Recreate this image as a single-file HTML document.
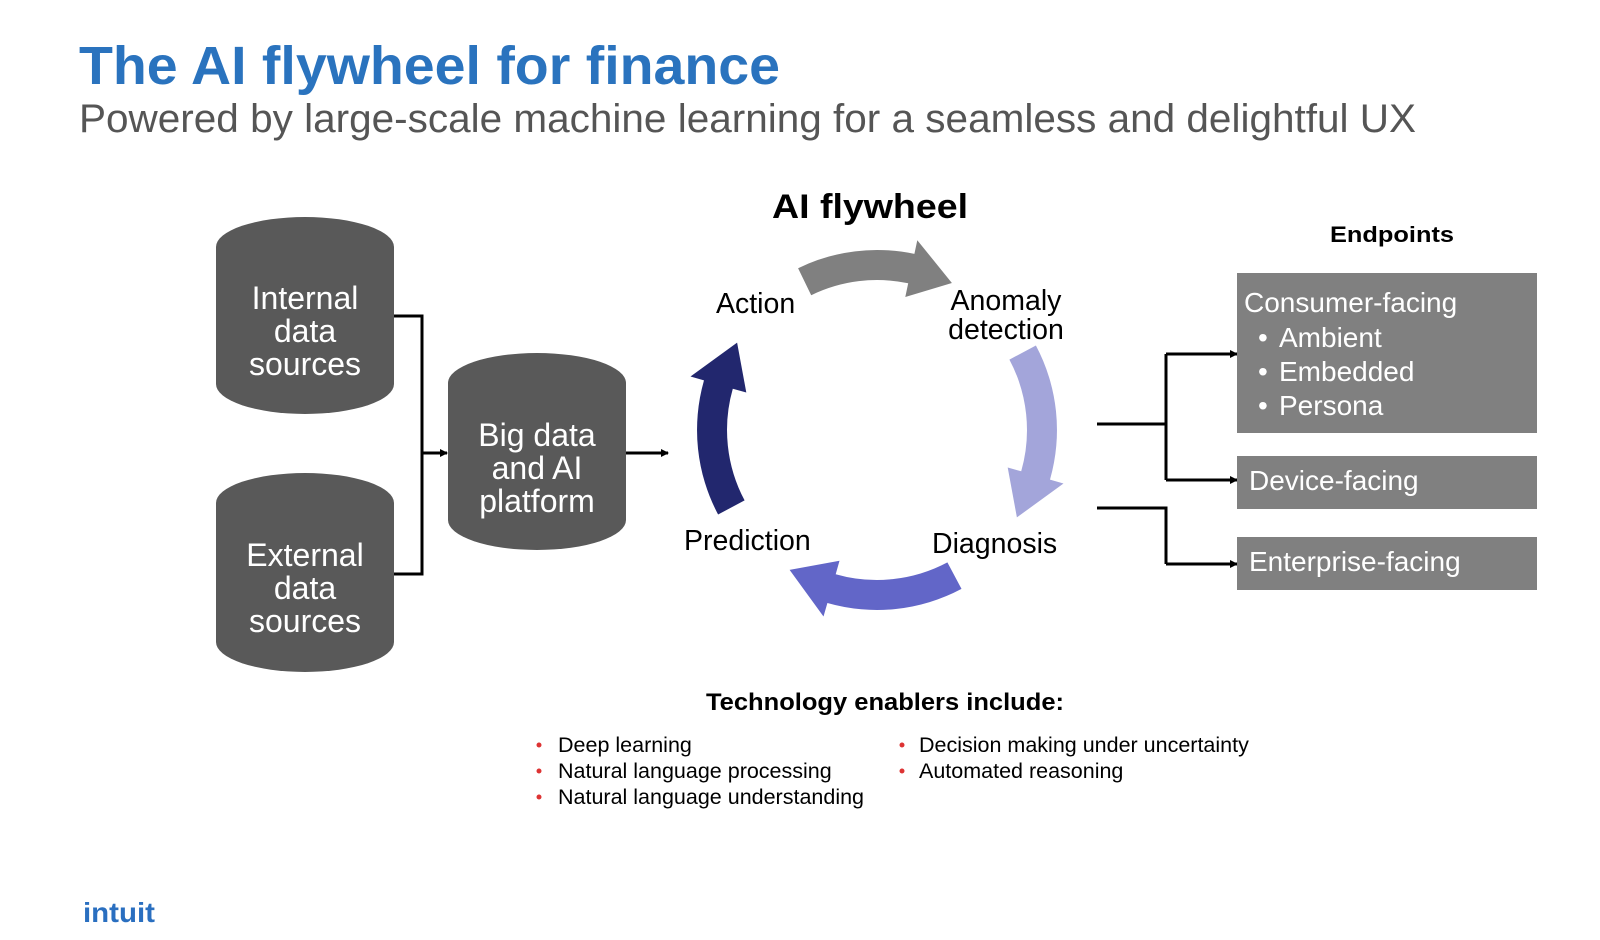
<!DOCTYPE html>
<html><head><meta charset="utf-8"><style>
html,body{margin:0;padding:0;background:#fff;}
svg{display:block;}
</style></head><body>
<svg width="1600" height="940" viewBox="0 0 1600 940" xmlns="http://www.w3.org/2000/svg" font-family="Liberation Sans, sans-serif">
<defs>
<marker id="ah" markerWidth="8" markerHeight="8" refX="7" refY="4" orient="auto" markerUnits="userSpaceOnUse">
<path d="M0,0 L8,4 L0,8 Z" fill="#000"/>
</marker>
</defs>
<text x="79" y="84" font-size="54" font-weight="bold" fill="#2a73be" textLength="701" lengthAdjust="spacingAndGlyphs">The AI flywheel for finance</text>
<text x="79" y="132" font-size="40" fill="#555" textLength="1337" lengthAdjust="spacingAndGlyphs">Powered by large-scale machine learning for a seamless and delightful UX</text>

<text x="772" y="218" font-size="34" font-weight="bold" fill="#000" textLength="196" lengthAdjust="spacingAndGlyphs">AI flywheel</text>
<text x="1330" y="242" font-size="22" font-weight="bold" fill="#000" textLength="124" lengthAdjust="spacingAndGlyphs">Endpoints</text>

<g fill="#595959">
<path d="M216,247 A89,30 0 0 1 394,247 L394,384 A89,30 0 0 1 216,384 Z"/>
<path d="M216,503 A89,30 0 0 1 394,503 L394,642 A89,30 0 0 1 216,642 Z"/>
<path d="M448,383 A89,30 0 0 1 626,383 L626,520 A89,30 0 0 1 448,520 Z"/>
</g>
<g fill="#fff" font-size="32" text-anchor="middle">
<text x="305" y="309">Internal</text><text x="305" y="342">data</text><text x="305" y="375">sources</text>
<text x="305" y="566">External</text><text x="305" y="599">data</text><text x="305" y="632">sources</text>
<text x="537" y="446">Big data</text><text x="537" y="479">and AI</text><text x="537" y="512">platform</text>
</g>
<g stroke="#000" stroke-width="3" fill="none">
<polyline points="394,316 422,316 422,574 394,574"/>
<line x1="422" y1="453" x2="447" y2="453" marker-end="url(#ah)"/>
<line x1="626" y1="453" x2="668" y2="453" marker-end="url(#ah)"/>
</g>

<g transform="translate(877,430)">
<path fill="#808080" d="M -78.9 -161.8 A 180 180 0 0 1 37.4 -176.1 L 40.3 -189.8 L 74.9 -147.0 L 28.3 -133.0 L 31.2 -146.7 A 150 150 0 0 0 -65.8 -134.8 Z"/>
<path transform="rotate(90)" fill="#a3a5da" d="M -84.5 -158.9 A 180 180 0 0 1 49.6 -173.0 L 53.5 -186.5 L 87.4 -139.9 L 37.5 -130.7 L 41.3 -144.2 A 150 150 0 0 0 -70.4 -132.4 Z"/>
<path transform="rotate(180)" fill="#6266c8" d="M -84.5 -158.9 A 180 180 0 0 1 49.6 -173.0 L 53.5 -186.5 L 87.4 -139.9 L 37.5 -130.7 L 41.3 -144.2 A 150 150 0 0 0 -70.4 -132.4 Z"/>
<path transform="rotate(270)" fill="#22276e" d="M -84.5 -158.9 A 180 180 0 0 1 49.6 -173.0 L 53.5 -186.5 L 87.4 -139.9 L 37.5 -130.7 L 41.3 -144.2 A 150 150 0 0 0 -70.4 -132.4 Z"/>
</g>
<g font-size="28.5" fill="#000">
<text x="716" y="313">Action</text>
<text x="1006" y="310" text-anchor="middle">Anomaly</text>
<text x="1006" y="339" text-anchor="middle">detection</text>
<text x="684" y="550">Prediction</text>
<text x="932" y="553">Diagnosis</text>
</g>

<g stroke="#000" stroke-width="3" fill="none">
<polyline points="1097,424 1166,424"/>
<polyline points="1166,354 1166,480"/>
<line x1="1166" y1="354" x2="1237" y2="354" marker-end="url(#ah)"/>
<line x1="1166" y1="480" x2="1237" y2="480" marker-end="url(#ah)"/>
<polyline points="1097,508 1166,508 1166,564"/>
<line x1="1166" y1="564" x2="1237" y2="564" marker-end="url(#ah)"/>
</g>
<g fill="#808080">
<rect x="1237" y="273" width="300" height="160"/>
<rect x="1237" y="456" width="300" height="53"/>
<rect x="1237" y="537" width="300" height="53"/>
</g>
<g fill="#fff" font-size="28">
<text x="1244" y="312">Consumer-facing</text>
<text x="1258" y="347">•</text><text x="1279" y="347">Ambient</text>
<text x="1258" y="381">•</text><text x="1279" y="381">Embedded</text>
<text x="1258" y="415">•</text><text x="1279" y="415">Persona</text>
<text x="1249" y="490">Device-facing</text>
<text x="1249" y="571">Enterprise-facing</text>
</g>

<text x="706" y="710" font-size="24" font-weight="bold" fill="#000" textLength="358" lengthAdjust="spacingAndGlyphs">Technology enablers include:</text>
<g font-size="21.5" fill="#000">
<text x="558" y="752">Deep learning</text>
<text x="558" y="778">Natural language processing</text>
<text x="558" y="804">Natural language understanding</text>
<text x="919" y="752">Decision making under uncertainty</text>
<text x="919" y="778">Automated reasoning</text>
</g>
<g fill="#d33">
<circle cx="539" cy="745" r="2.5"/><circle cx="539" cy="771" r="2.5"/><circle cx="539" cy="797" r="2.5"/>
<circle cx="902" cy="745" r="2.5"/><circle cx="902" cy="771" r="2.5"/>
</g>

<text x="83" y="922" font-size="28" font-weight="bold" fill="#2a6fc0" textLength="72" lengthAdjust="spacingAndGlyphs">intuit</text>
</svg>
</body></html>
